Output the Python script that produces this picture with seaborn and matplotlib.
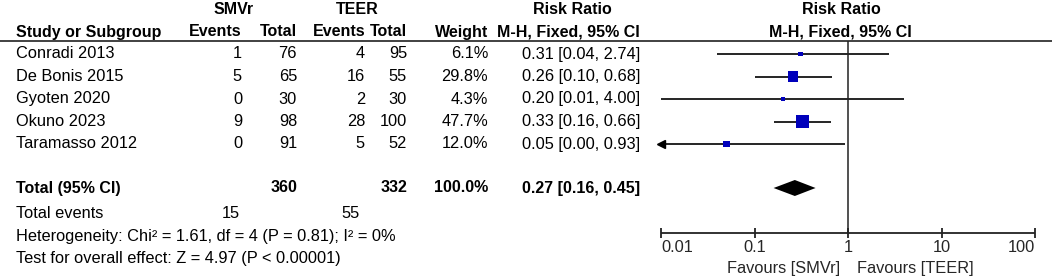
import seaborn as sns
import matplotlib.pyplot as plt
import pandas as pd
import numpy as np

# data
studies = ["Conradi 2013", "De Bonis 2015", "Gyoten 2020", "Okuno 2023", "Taramasso 2012"]
smvr_events = [1, 5, 0, 9, 0]
smvr_total = [76, 65, 30, 98, 91]
teer_events = [4, 16, 2, 28, 5]
teer_total = [95, 55, 30, 100, 52]
weight = [6.1, 29.8, 4.3, 47.7, 12.0]
rr = [0.31, 0.26, 0.20, 0.33, 0.05]
ci_low = [0.04, 0.10, 0.01, 0.16, 0.00]
ci_high = [2.74, 0.68, 4.00, 0.66, 0.93]

total_smvr, total_teer = 360, 332
total_weight = 100.0
total_events_smvr, total_events_teer = 15, 55
pooled_rr, pooled_low, pooled_high = 0.27, 0.16, 0.45
het_text = "Heterogeneity: Chi² = 1.61, df = 4 (P = 0.81); I² = 0%"
test_text = "Test for overall effect: Z = 4.97 (P < 0.00001)"
x_ticks = [0.01, 0.1, 1, 10, 100]
x_tick_labels = ["0.01", "0.1", "1", "10", "100"]

sns.set_style("white")
plt.rcParams['font.family'] = ['Liberation Sans', 'DejaVu Sans']
FS = 11.8   # regular text
FSB = 11.5  # bold text

W, H = 1052, 279
fig = plt.figure(figsize=(W / 100, H / 100), dpi=100)

# table axes in pixel coords
tab = fig.add_axes([0, 0, 1, 1])
tab.set_xlim(0, W)
tab.set_ylim(H, 0)
tab.axis("off")

row_y = [54 + i * 22.5 for i in range(len(studies))]
y_total, y_tev, y_het, y_test = 188, 213, 236, 259
y_axis = 233

# column right edges
c_ev1, c_tot1, c_ev2, c_tot2, c_w, c_rr = 242, 297, 365, 407, 488, 640

def t(x, y, s, ha="right", bold=False):
    tab.text(x, y, s, ha=ha, va="center", fontsize=FSB if bold else FS,
             fontweight="bold" if bold else "normal", color="black")

# headers
t(234, 10, "SMVr", ha="center", bold=True)
t(357, 10, "TEER", ha="center", bold=True)
t(572, 10, "Risk Ratio", ha="center", bold=True)
t(841, 10, "Risk Ratio", ha="center", bold=True)
t(16, 32, "Study or Subgroup", ha="left", bold=True)
for x, s in [(c_ev1, "Events"), (c_tot1, "Total"), (c_ev2, "Events"),
             (c_tot2, "Total"), (c_w, "Weight"), (c_rr, "M-H, Fixed, 95% CI")]:
    t(x, 32, s, bold=True)
t(840, 32, "M-H, Fixed, 95% CI", ha="center", bold=True)
tab.axhline(41, color="#333333", lw=1.3)

for i, y in enumerate(row_y):
    t(16, y, studies[i], ha="left")
    t(c_ev1, y, str(smvr_events[i]))
    t(c_tot1, y, str(smvr_total[i]))
    t(c_ev2, y, str(teer_events[i]))
    t(c_tot2, y, str(teer_total[i]))
    t(c_w, y, f"{weight[i]:.1f}%")
    t(c_rr, y, f"{rr[i]:.2f} [{ci_low[i]:.2f}, {ci_high[i]:.2f}]")

t(16, y_total, "Total (95% CI)", ha="left", bold=True)
t(c_tot1, y_total, str(total_smvr), bold=True)
t(c_tot2, y_total, str(total_teer), bold=True)
t(c_w, y_total, f"{total_weight:.1f}%", bold=True)
t(c_rr, y_total, f"{pooled_rr:.2f} [{pooled_low:.2f}, {pooled_high:.2f}]", bold=True)
t(16, y_tev, "Total events", ha="left")
t(c_ev1 - 2, y_tev, str(total_events_smvr))
t(c_ev2 - 5, y_tev, str(total_events_teer))
t(16, y_het, het_text, ha="left")
t(16, y_test, test_text, ha="left")

# forest axes: log scale, same vertical pixel coords
fx0, fx1 = 661, 1035
ax = fig.add_axes([fx0 / W, 0, (fx1 - fx0) / W, 1])
ax.patch.set_alpha(0)

df = pd.DataFrame({"study": studies, "rr": rr, "low": ci_low, "high": ci_high,
                   "weight": weight, "y": row_y})
df["low_clip"] = df["low"].clip(lower=x_ticks[0])

ax.hlines(df["y"], df["low_clip"], df["high"], color="black", lw=1.2, clip_on=False)
trunc = df[df["low"] < x_ticks[0]]
ax.plot(trunc["low_clip"], trunc["y"], marker="<", color="black", ms=6,
        ls="none", clip_on=False)

smin, smax = min(weight) * 1.84, max(weight) * 1.84
sns.scatterplot(data=df, x="rr", y="y", size="weight", sizes=(smin, smax),
                marker="s", color="#0000BB", edgecolor="#0000BB", linewidth=0,
                legend=False, ax=ax, zorder=3, clip_on=False)
ax.set_xscale("log")
ax.set_xlim(x_ticks[0], x_ticks[-1])
ax.set_ylim(H, 0)
ax.axis("off")

# pooled diamond
ax.fill([pooled_low, pooled_rr, pooled_high, pooled_rr],
        [y_total, y_total - 8, y_total, y_total + 8], color="black", lw=0)

# line of no effect and bottom axis
ax.vlines(1, 41, y_axis, color="#222222", lw=1.1)
ax.hlines(y_axis, x_ticks[0], x_ticks[-1], color="#222222", lw=1.3, clip_on=False)
ax.vlines(x_ticks, y_axis - 5, y_axis + 5, color="#222222", lw=1.3, clip_on=False)
for k, (xv, lab) in enumerate(zip(x_ticks, x_tick_labels)):
    ha = "left" if k == 0 else ("right" if k == len(x_ticks) - 1 else "center")
    ax.text(xv, 248, lab, ha=ha, va="center", fontsize=FS, clip_on=False)
ax.text(0.82, 268, "Favours [SMVr]", ha="right", va="center", fontsize=FS)
ax.text(1.25, 268, "Favours [TEER]", ha="left", va="center", fontsize=FS)

fig.savefig("out.png", dpi=100)
